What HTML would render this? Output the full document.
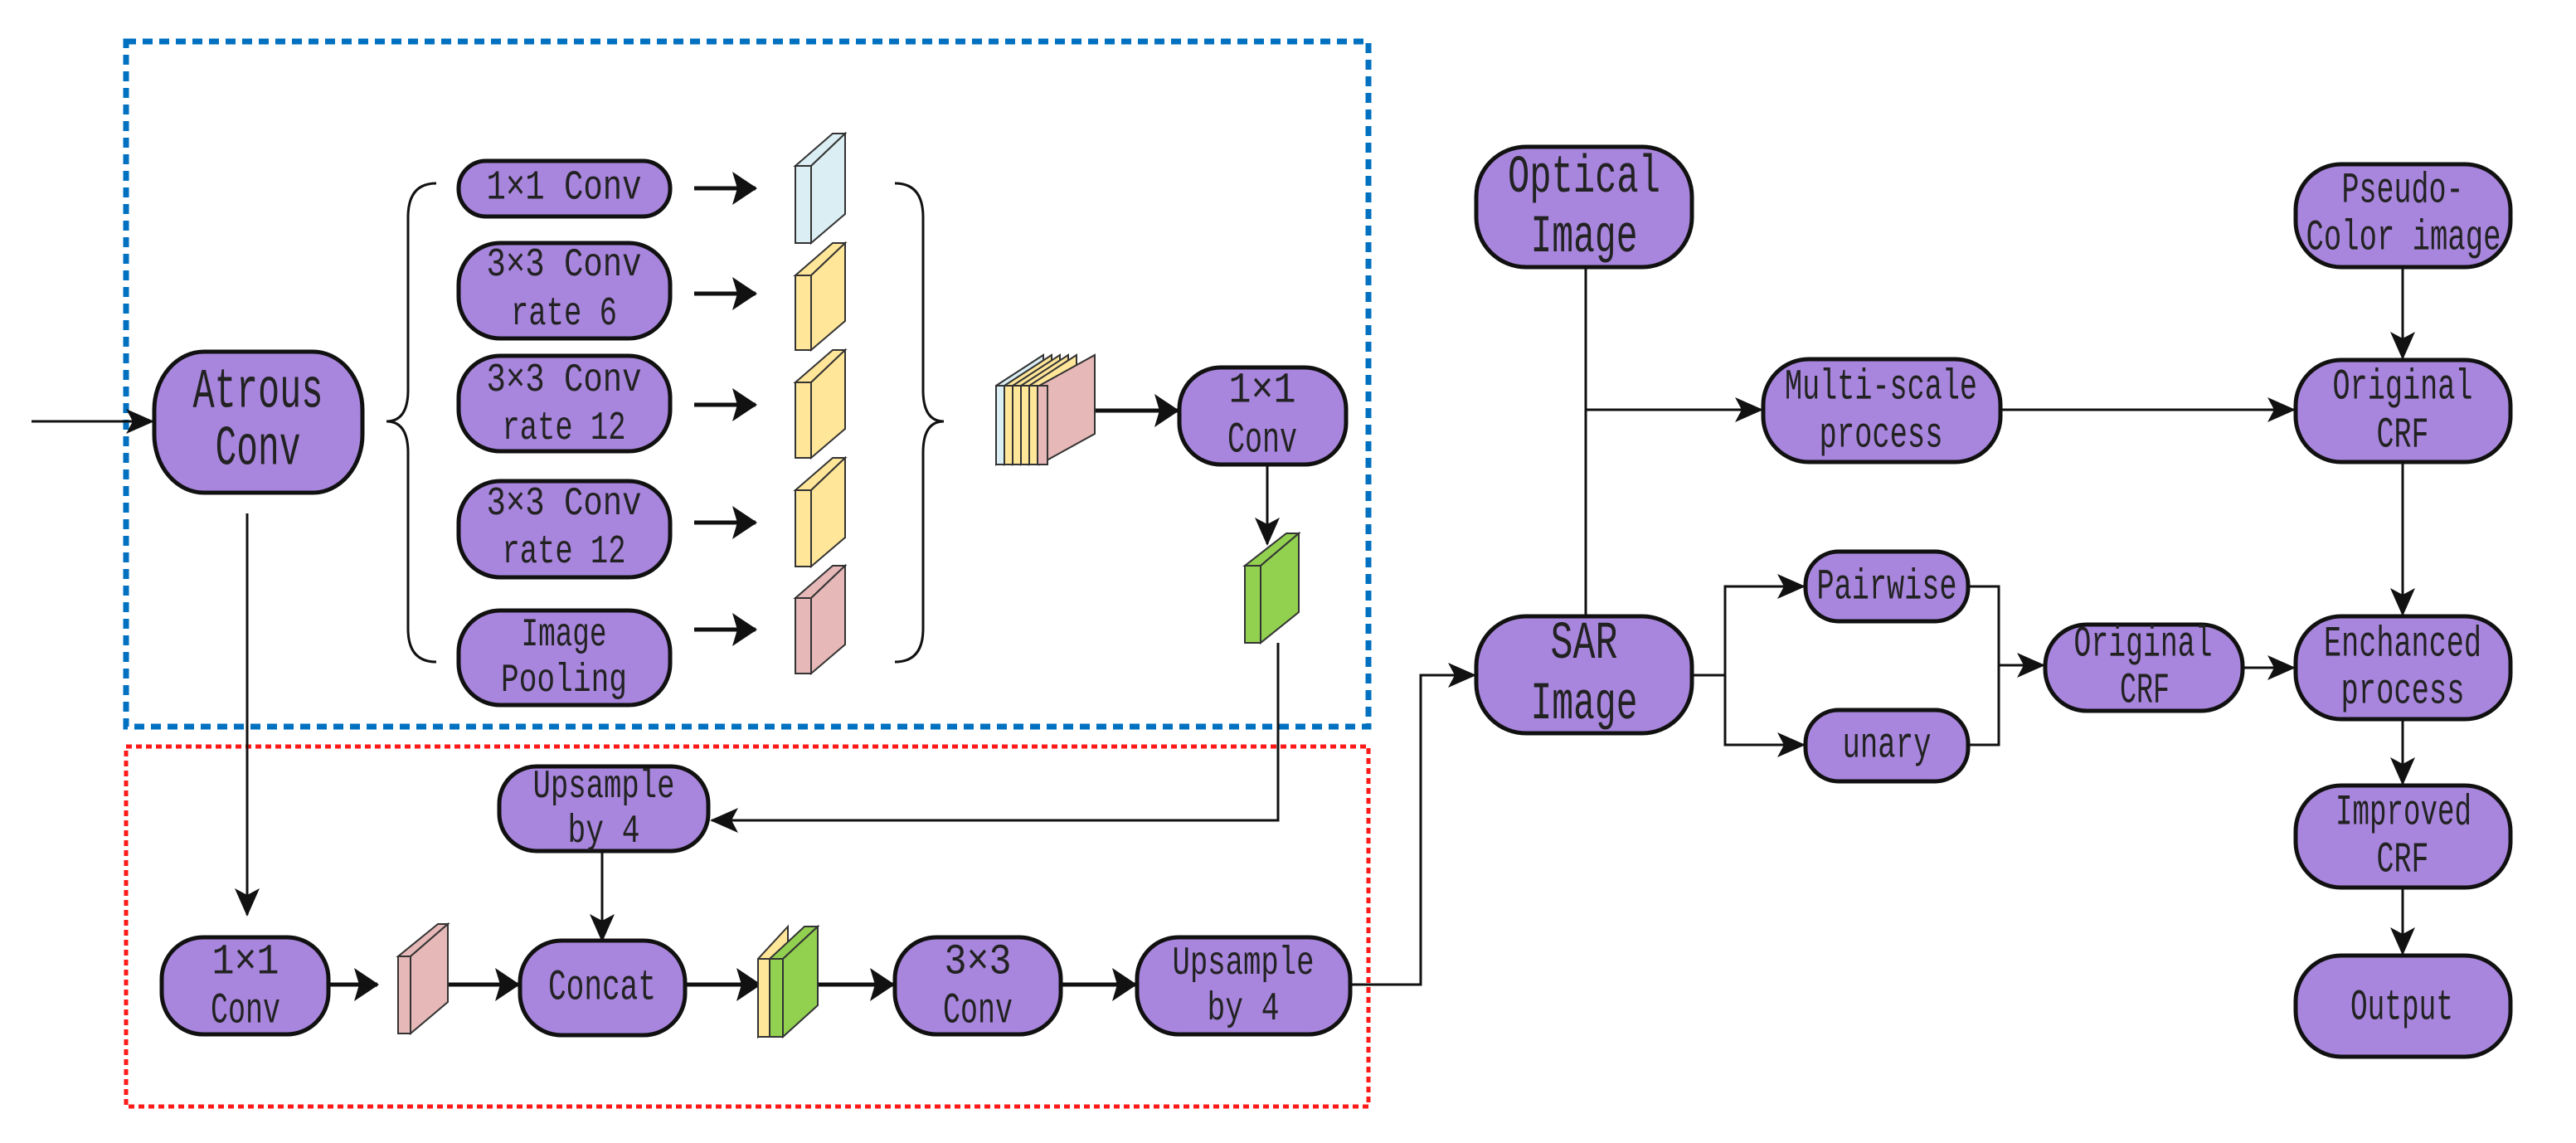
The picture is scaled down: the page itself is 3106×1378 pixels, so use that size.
<!DOCTYPE html>
<html><head><meta charset="utf-8"><style>
html,body{margin:0;padding:0;background:#fff;}
svg{display:block;}
text{font-family:"Liberation Mono","Noto Sans CJK SC",monospace;fill:#222;dominant-baseline:central;text-anchor:middle;}
.n{fill:#a886dd;stroke:#111;stroke-width:5;}
.l{stroke:#111;stroke-width:3;fill:none;}
.t{stroke:#111;stroke-width:5;fill:none;}
.s{stroke:#333;stroke-width:2;}
</style></head><body>
<svg width="3106" height="1378" viewBox="0 0 3106 1378" xmlns="http://www.w3.org/2000/svg">
<defs>
<marker id="a" markerUnits="userSpaceOnUse" markerWidth="34" markerHeight="30" refX="32" refY="15" orient="auto"><path d="M0,0 L34,15 L0,30 L8,15 Z" fill="#111"/></marker>
<marker id="b" markerUnits="userSpaceOnUse" markerWidth="30" markerHeight="40" refX="28" refY="20" orient="auto"><path d="M0,0 L30,20 L0,40 L6,20 Z" fill="#111"/></marker>
</defs>

<rect x="152" y="50" width="1498" height="826" fill="none" stroke="#0070c0" stroke-width="7" stroke-dasharray="12,8"/>
<rect x="152" y="900" width="1498" height="434" fill="none" stroke="#ff1a1a" stroke-width="5" stroke-dasharray="7,5"/>

<path class="l" d="M526,221 Q492,221 492,262 L492,470 Q492,508 466,508 Q492,508 492,546 L492,758 Q492,798 526,798"/>
<path class="l" d="M1079,221 Q1113,221 1113,262 L1113,470 Q1113,508 1138,508 Q1113,508 1113,546 L1113,758 Q1113,798 1079,798"/>

<line class="l" x1="38" y1="508" x2="184" y2="508" marker-end="url(#a)"/>
<line class="t" x1="837" y1="227" x2="911" y2="227" marker-end="url(#b)"/>
<line class="t" x1="837" y1="354" x2="911" y2="354" marker-end="url(#b)"/>
<line class="t" x1="837" y1="488" x2="911" y2="488" marker-end="url(#b)"/>
<line class="t" x1="837" y1="630" x2="911" y2="630" marker-end="url(#b)"/>
<line class="t" x1="837" y1="759" x2="911" y2="759" marker-end="url(#b)"/>
<line class="t" x1="1320" y1="495" x2="1420" y2="495" marker-end="url(#b)"/>
<line class="l" x1="1528" y1="560" x2="1528" y2="656" marker-end="url(#a)"/>
<polyline class="l" points="1541,775 1541,989 858,989" marker-end="url(#a)"/>
<line class="l" x1="298" y1="619" x2="298" y2="1103" marker-end="url(#a)"/>
<line class="l" x1="726" y1="1026" x2="726" y2="1134" marker-end="url(#a)"/>
<line class="t" x1="396" y1="1187" x2="455" y2="1187" marker-end="url(#b)"/>
<line class="t" x1="531" y1="1187" x2="625" y2="1187" marker-end="url(#b)"/>
<line class="t" x1="826" y1="1187" x2="916" y2="1187" marker-end="url(#b)"/>
<line class="t" x1="986" y1="1187" x2="1077" y2="1187" marker-end="url(#b)"/>
<line class="t" x1="1279" y1="1187" x2="1369" y2="1187" marker-end="url(#b)"/>
<polyline class="l" points="1628,1187 1713,1187 1713,814 1778,814" marker-end="url(#a)"/>

<line class="l" x1="1912" y1="322" x2="1912" y2="743"/>
<line class="l" x1="1912" y1="494" x2="2124" y2="494" marker-end="url(#a)"/>
<line class="l" x1="2412" y1="494" x2="2766" y2="494" marker-end="url(#a)"/>
<line class="l" x1="2897" y1="322" x2="2897" y2="432" marker-end="url(#a)"/>
<line class="l" x1="2897" y1="557" x2="2897" y2="741" marker-end="url(#a)"/>
<line class="l" x1="2897" y1="867" x2="2897" y2="945" marker-end="url(#a)"/>
<line class="l" x1="2897" y1="1070" x2="2897" y2="1150" marker-end="url(#a)"/>
<polyline class="l" points="2040,814 2080,814"/>
<polyline class="l" points="2175,707 2080,707 2080,898 2175,898"/>
<line class="l" x1="2080" y1="707" x2="2175" y2="707" marker-end="url(#a)"/>
<line class="l" x1="2080" y1="898" x2="2175" y2="898" marker-end="url(#a)"/>
<polyline class="l" points="2373,707 2410,707 2410,898 2373,898"/>
<line class="l" x1="2410" y1="802" x2="2464" y2="802" marker-end="url(#a)"/>
<line class="l" x1="2704" y1="805" x2="2766" y2="805" marker-end="url(#a)"/>

<g class="s">
<polygon points="959,200 978,200 1019,161 1004,161" fill="#daeef3"/><polygon points="978,200 1019,161 1019,258 978,293" fill="#daeef3"/><rect x="959" y="200" width="19" height="93" fill="#daeef3"/>
<polygon points="959,332 978,332 1019,293 1004,293" fill="#ffe699"/><polygon points="978,332 1019,293 1019,387 978,422" fill="#ffe699"/><rect x="959" y="332" width="19" height="90" fill="#ffe699"/>
<polygon points="959,461 978,461 1019,422 1004,422" fill="#ffe699"/><polygon points="978,461 1019,422 1019,517 978,552" fill="#ffe699"/><rect x="959" y="461" width="19" height="91" fill="#ffe699"/>
<polygon points="959,591 978,591 1019,552 1004,552" fill="#ffe699"/><polygon points="978,591 1019,552 1019,648 978,683" fill="#ffe699"/><rect x="959" y="591" width="19" height="92" fill="#ffe699"/>
<polygon points="959,721 978,721 1019,682 1004,682" fill="#e6b8b7"/><polygon points="978,721 1019,682 1019,777 978,812" fill="#e6b8b7"/><rect x="959" y="721" width="19" height="91" fill="#e6b8b7"/>
<polygon points="1201,465 1258,428 1258,523 1201,560" fill="#daeef3"/><rect x="1201" y="465" width="10" height="95" fill="#daeef3"/>
<polygon points="1211,465 1268,428 1268,523 1211,560" fill="#ffe699"/><rect x="1211" y="465" width="10" height="95" fill="#ffe699"/>
<polygon points="1221,465 1278,428 1278,523 1221,560" fill="#ffe699"/><rect x="1221" y="465" width="10" height="95" fill="#ffe699"/>
<polygon points="1231,465 1288,428 1288,523 1231,560" fill="#ffe699"/><rect x="1231" y="465" width="10" height="95" fill="#ffe699"/>
<polygon points="1241,465 1298,428 1298,523 1241,560" fill="#ffe699"/><rect x="1241" y="465" width="10" height="95" fill="#ffe699"/>
<polygon points="1253,465 1320,428 1320,523 1253,560" fill="#e6b8b7"/><rect x="1251" y="465" width="12" height="95" fill="#e6b8b7"/>
<polygon points="1501,682 1520,682 1566,643 1551,643" fill="#92d050"/><polygon points="1520,682 1566,643 1566,738 1520,775" fill="#92d050"/><rect x="1501" y="682" width="19" height="93" fill="#92d050"/>
<polygon points="480,1153 495,1153 540,1114 528,1114" fill="#e6b8b7"/><polygon points="495,1153 540,1114 540,1208 495,1246" fill="#e6b8b7"/><rect x="480" y="1153" width="15" height="93" fill="#e6b8b7"/>
<polygon points="914,1156 950,1117 950,1212 914,1250" fill="#ffe699"/><rect x="914" y="1156" width="14" height="94" fill="#ffe699"/>
<polygon points="928,1156 944,1156 986,1117 970,1117" fill="#92d050"/><polygon points="944,1156 986,1117 986,1212 944,1250" fill="#92d050"/><rect x="928" y="1156" width="16" height="94" fill="#92d050"/>
</g>

<rect class="n" x="186" y="424" width="251" height="170" rx="60" ry="70"/>
<text x="311" y="473" font-size="68" textLength="157" lengthAdjust="spacingAndGlyphs">Atrous</text>
<text x="311" y="542" font-size="68" textLength="103" lengthAdjust="spacingAndGlyphs">Conv</text>

<rect class="n" x="553" y="194" width="255" height="67" rx="33"/>
<text x="680" y="227" font-size="50" textLength="187" lengthAdjust="spacingAndGlyphs">1×1 Conv</text>
<rect class="n" x="553" y="293" width="255" height="115" rx="50" ry="50"/>
<text x="680" y="320" font-size="48" textLength="187" lengthAdjust="spacingAndGlyphs">3×3 Conv</text>
<text x="680" y="379" font-size="48" textLength="128" lengthAdjust="spacingAndGlyphs">rate 6</text>
<rect class="n" x="553" y="429" width="255" height="115" rx="50" ry="50"/>
<text x="680" y="459" font-size="48" textLength="187" lengthAdjust="spacingAndGlyphs">3×3 Conv</text>
<text x="680" y="517" font-size="48" textLength="149" lengthAdjust="spacingAndGlyphs">rate 12</text>
<rect class="n" x="553" y="580" width="255" height="116" rx="50" ry="50"/>
<text x="680" y="608" font-size="48" textLength="187" lengthAdjust="spacingAndGlyphs">3×3 Conv</text>
<text x="680" y="666" font-size="48" textLength="149" lengthAdjust="spacingAndGlyphs">rate 12</text>
<rect class="n" x="553" y="736" width="255" height="114" rx="50" ry="50"/>
<text x="680" y="766" font-size="48" textLength="103" lengthAdjust="spacingAndGlyphs">Image</text>
<text x="680" y="821" font-size="48" textLength="152" lengthAdjust="spacingAndGlyphs">Pooling</text>

<rect class="n" x="1422" y="443" width="201" height="117" rx="50" ry="50"/>
<text x="1522" y="471" font-size="52" textLength="81" lengthAdjust="spacingAndGlyphs">1×1</text>
<text x="1522" y="531" font-size="52" textLength="84" lengthAdjust="spacingAndGlyphs">Conv</text>

<rect class="n" x="602" y="924" width="252" height="102" rx="45" ry="45"/>
<text x="728" y="949" font-size="48" textLength="171" lengthAdjust="spacingAndGlyphs">Upsample</text>
<text x="728" y="1003" font-size="48" textLength="87" lengthAdjust="spacingAndGlyphs">by 4</text>

<rect class="n" x="195" y="1130" width="201" height="117" rx="50" ry="50"/>
<text x="296" y="1160" font-size="52" textLength="81" lengthAdjust="spacingAndGlyphs">1×1</text>
<text x="296" y="1219" font-size="52" textLength="84" lengthAdjust="spacingAndGlyphs">Conv</text>
<rect class="n" x="627" y="1134" width="199" height="114" rx="50" ry="50"/>
<text x="726" y="1191" font-size="52" textLength="130" lengthAdjust="spacingAndGlyphs">Concat</text>
<rect class="n" x="1079" y="1130" width="200" height="117" rx="50" ry="50"/>
<text x="1179" y="1160" font-size="52" textLength="81" lengthAdjust="spacingAndGlyphs">3×3</text>
<text x="1179" y="1219" font-size="52" textLength="84" lengthAdjust="spacingAndGlyphs">Conv</text>
<rect class="n" x="1371" y="1130" width="257" height="117" rx="50" ry="50"/>
<text x="1499" y="1162" font-size="48" textLength="171" lengthAdjust="spacingAndGlyphs">Upsample</text>
<text x="1499" y="1217" font-size="48" textLength="87" lengthAdjust="spacingAndGlyphs">by 4</text>

<rect class="n" x="1780" y="177" width="260" height="145" rx="60" ry="60"/>
<text x="1910" y="215" font-size="64" textLength="184" lengthAdjust="spacingAndGlyphs">Optical</text>
<text x="1910" y="287" font-size="64" textLength="129" lengthAdjust="spacingAndGlyphs">Image</text>
<rect class="n" x="1780" y="743" width="260" height="141" rx="60" ry="60"/>
<text x="1910" y="777" font-size="64" textLength="81" lengthAdjust="spacingAndGlyphs">SAR</text>
<text x="1910" y="850" font-size="64" textLength="129" lengthAdjust="spacingAndGlyphs">Image</text>

<rect class="n" x="2126" y="433" width="286" height="124" rx="55" ry="55"/>
<text x="2268" y="467" font-size="52" textLength="232" lengthAdjust="spacingAndGlyphs">Multi-scale</text>
<text x="2268" y="525" font-size="52" textLength="149" lengthAdjust="spacingAndGlyphs">process</text>

<rect class="n" x="2768" y="198" width="259" height="124" rx="55" ry="55"/>
<text x="2897" y="230" font-size="52" textLength="147" lengthAdjust="spacingAndGlyphs">Pseudo-</text>
<text x="2898" y="287" font-size="52" textLength="235" lengthAdjust="spacingAndGlyphs">Color image</text>
<rect class="n" x="2768" y="434" width="259" height="123" rx="55" ry="55"/>
<text x="2897" y="467" font-size="52" textLength="169" lengthAdjust="spacingAndGlyphs">Original</text>
<text x="2897" y="525" font-size="52" textLength="63" lengthAdjust="spacingAndGlyphs">CRF</text>

<rect class="n" x="2177" y="665" width="196" height="84" rx="40" ry="40"/>
<text x="2275" y="708" font-size="52" textLength="169" lengthAdjust="spacingAndGlyphs">Pairwise</text>
<rect class="n" x="2177" y="856" width="196" height="86" rx="40" ry="40"/>
<text x="2275" y="899" font-size="52" textLength="107" lengthAdjust="spacingAndGlyphs">unary</text>

<rect class="n" x="2466" y="753" width="238" height="104" rx="50" ry="50"/>
<text x="2584" y="777" font-size="52" textLength="167" lengthAdjust="spacingAndGlyphs">Original</text>
<text x="2586" y="833" font-size="52" textLength="60" lengthAdjust="spacingAndGlyphs">CRF</text>

<rect class="n" x="2768" y="743" width="259" height="124" rx="55" ry="55"/>
<text x="2897" y="777" font-size="52" textLength="190" lengthAdjust="spacingAndGlyphs">Enchanced</text>
<text x="2897" y="834" font-size="52" textLength="149" lengthAdjust="spacingAndGlyphs">process</text>
<rect class="n" x="2768" y="947" width="259" height="123" rx="55" ry="55"/>
<text x="2898" y="980" font-size="52" textLength="164" lengthAdjust="spacingAndGlyphs">Improved</text>
<text x="2897" y="1037" font-size="52" textLength="63" lengthAdjust="spacingAndGlyphs">CRF</text>
<rect class="n" x="2768" y="1152" width="259" height="122" rx="55" ry="55"/>
<text x="2896" y="1215" font-size="52" textLength="124" lengthAdjust="spacingAndGlyphs">Output</text>
</svg>
</body></html>
